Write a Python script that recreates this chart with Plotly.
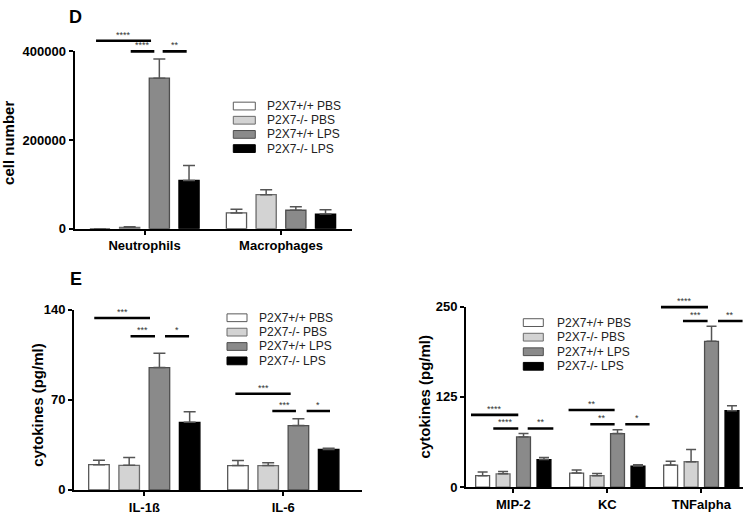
import plotly.graph_objects as go

W, H = 750, 519

series = ["P2X7+/+ PBS", "P2X7-/- PBS", "P2X7+/+ LPS", "P2X7-/- LPS"]
series_fill = ["#ffffff", "#d3d3d3", "#8a8a8a", "#000000"]
series_edge = ["#5a5a5a", "#6a6a6a", "#4e4e4e", "#000000"]

# D: cells in BAL
cell_types = ["Neutrophils", "Macrophages"]
cell_mean = [
    [0, 35700],
    [3000, 76700],
    [339500, 41600],
    [108700, 32900],
]
cell_sem = [
    [0, 8300],
    [1500, 10900],
    [43500, 7900],
    [33700, 10100],
]
cell_ticks = [0, 200000, 400000]
# (category, start, end, level, stars)
cell_sig = [
    (0, -0.355, 0.048, 424100, "****"),
    (0, -0.101, 0.072, 400000, "****"),
    (0, 0.133, 0.309, 400000, "**"),
]

# E left: IL-1b / IL-6
il_names = ["IL-1ß", "IL-6"]
il_mean = [
    [19.6, 18.9],
    [19.1, 18.9],
    [95.0, 50.0],
    [52.5, 31.4],
]
il_sem = [
    [3.5, 4.0],
    [6.0, 2.2],
    [11.1, 5.3],
    [8.3, 1.0],
]
il_ticks = [0, 70, 140]
il_sig = [
    (0, -0.360, 0.041, 133.5, "***"),
    (0, -0.099, 0.077, 119.4, "***"),
    (0, 0.149, 0.322, 119.4, "*"),
    (1, -0.345, 0.053, 74.7, "***"),
    (1, -0.079, 0.091, 61.3, "***"),
    (1, 0.168, 0.336, 61.3, "*"),
]

# E right: chemokines / TNF
ck_names = ["MIP-2", "KC", "TNFalpha"]
ck_mean = [
    [15.9, 19.5, 30.6],
    [18.5, 15.9, 35.2],
    [69.6, 74.2, 201.9],
    [38.3, 29.3, 105.9],
]
ck_sem = [
    [5.3, 4.4, 5.4],
    [3.3, 3.2, 17.0],
    [4.6, 5.4, 20.9],
    [2.7, 1.9, 6.7],
]
ck_ticks = [0, 125, 250]
ck_sig = [
    (0, -0.450, 0.053, 100.1, "****"),
    (0, -0.213, 0.053, 81.3, "****"),
    (0, 0.153, 0.426, 81.3, "**"),
    (1, -0.412, 0.078, 106.9, "**"),
    (1, -0.181, 0.078, 87.1, "**"),
    (1, 0.191, 0.450, 87.1, "*"),
    (2, -0.429, 0.071, 249.3, "****"),
    (2, -0.195, 0.067, 230.1, "***"),
    (2, 0.178, 0.439, 230.1, "**"),
]

FONT = "Arial, Liberation Sans, sans-serif"


def fx(px):
    return px / W


def fy(py):
    return 1 - py / H


# pixel boxes of each panel (left, right, bottom, top, first category px, category step)
panels = [
    dict(cats=cell_types, mean=cell_mean, sem=cell_sem, ticks=cell_ticks, sig=cell_sig,
         box=(74.5, 351.7, 228.3, 45.7), c0=144.5, step=136.5, sig_top=14, cap=6,
         title="cell number", title_xy=(9, 140), letter="D", letter_xy=(67, 10),
         legend=(233.3, 102, 265, 14.6, 22)),
    dict(cats=il_names, mean=il_mean, sem=il_sem, ticks=il_ticks, sig=il_sig,
         box=(74, 361.7, 497.3, 311.7), c0=144.3, step=139, sig_top=296, cap=6,
         title="cytokines (pg/ml)", title_xy=(37.5, 410), letter="E", letter_xy=(68, 280),
         legend=(227, 320, 257, 14.8, 20)),
    dict(cats=ck_names, mean=ck_mean, sem=ck_sem, ticks=ck_ticks, sig=ck_sig,
         box=(466, 743, 494.5, 308.5), c0=513.3, step=94, sig_top=292, cap=5,
         title="cytokines (pg/ml)", title_xy=(424, 402), letter=None, letter_xy=None,
         legend=(523.3, 325, 555, 15, 20)),
]

fig = go.Figure()
layout = {}
annotations = []
shapes = []

for p, panel in enumerate(panels):
    n = p + 1
    sn = n + 3
    xa = "x" if n == 1 else f"x{n}"
    ya = "y" if n == 1 else f"y{n}"
    sxa, sya = f"x{sn}", f"y{sn}"
    left, right, bottom, top = panel["box"]
    xr = [(left - panel["c0"]) / panel["step"], (right - panel["c0"]) / panel["step"]]
    ymax = panel["ticks"][-1]
    idx = list(range(len(panel["cats"])))

    for s in range(len(series)):
        fig.add_bar(
            x=idx, y=panel["mean"][s], xaxis=xa, yaxis=ya, name=series[s],
            marker=dict(color=series_fill[s], line=dict(color=series_edge[s], width=1.3)),
            error_y=dict(type="data", array=panel["sem"][s], arrayminus=[0] * len(idx),
                         symmetric=False, color="#555555", thickness=1.5, width=panel["cap"]),
            showlegend=False, hoverinfo="skip",
        )

    for c, a, b, lvl, stars in panel["sig"]:
        fig.add_scatter(
            x=[c + a, c + b], y=[lvl, lvl], mode="lines", xaxis=sxa, yaxis=sya,
            line=dict(color="black", width=2.6), showlegend=False, hoverinfo="skip",
        )
        annotations.append(dict(
            x=c + (a + b) / 2, y=lvl, xref=sxa, yref=sya, text=stars, showarrow=False,
            yanchor="bottom", yshift=-1, font=dict(family=FONT, size=9, color="#333333"),
        ))

    axis_font = dict(family=FONT, size=13, color="black", weight="bold")
    layout["xaxis" if n == 1 else f"xaxis{n}"] = dict(
        domain=[fx(left), fx(right)], range=xr, anchor=ya,
        tickmode="array", tickvals=idx, ticktext=panel["cats"],
        showline=True, linecolor="black", linewidth=2, ticks="outside",
        ticklen=4, tickwidth=2, tickcolor="black", tickfont=axis_font,
        showgrid=False, zeroline=False,
    )
    layout["yaxis" if n == 1 else f"yaxis{n}"] = dict(
        domain=[fy(bottom), fy(top)], range=[0, ymax], anchor=xa,
        tickmode="array", tickvals=panel["ticks"], tickformat="d",
        showline=True, linecolor="black", linewidth=2, ticks="outside",
        ticklen=4, tickwidth=2, tickcolor="black", tickfont=axis_font,
        showgrid=False, zeroline=False,
    )
    # taller invisible twin for the significance brackets (same data scale)
    layout[f"xaxis{sn}"] = dict(domain=[fx(left), fx(right)], range=xr, anchor=sya, visible=False)
    layout[f"yaxis{sn}"] = dict(
        domain=[fy(bottom), fy(panel["sig_top"])],
        range=[0, ymax * (bottom - panel["sig_top"]) / (bottom - top)],
        anchor=sxa, visible=False,
    )

    tx, ty = panel["title_xy"]
    annotations.append(dict(
        x=fx(tx), y=fy(ty), xref="paper", yref="paper", text=panel["title"],
        textangle=-90, showarrow=False, xanchor="center", yanchor="middle",
        font=dict(family=FONT, size=15, color="black", weight="bold"),
    ))
    if panel["letter"]:
        lx, ly = panel["letter_xy"]
        annotations.append(dict(
            x=fx(lx), y=fy(ly), xref="paper", yref="paper", text=panel["letter"],
            showarrow=False, xanchor="left", yanchor="middle",
            font=dict(family=FONT, size=18, color="black", weight="bold"),
        ))

    # legend box
    sx, cy, tx0, step, sw = panel["legend"]
    for s in range(len(series)):
        yy = cy + s * step
        shapes.append(dict(
            type="rect", xref="paper", yref="paper",
            x0=fx(sx), x1=fx(sx + sw), y0=fy(yy + 4), y1=fy(yy - 4),
            fillcolor=series_fill[s], line=dict(color=series_edge[s], width=1),
        ))
        annotations.append(dict(
            x=fx(tx0), y=fy(yy), xref="paper", yref="paper", text=series[s],
            showarrow=False, xanchor="left", yanchor="middle",
            font=dict(family=FONT, size=12, color="#222222"),
        ))

fig.update_layout(
    width=W, height=H,
    margin=dict(l=0, r=0, t=0, b=0),
    barmode="group", bargap=0.13, bargroupgap=0.32,
    paper_bgcolor="white", plot_bgcolor="rgba(0,0,0,0)",
    showlegend=False,
    annotations=annotations, shapes=shapes,
    **layout,
)

# the page body has a default 8px margin; drop it so the figure sits at 0,0
fig.write_html("out.html", config={"displayModeBar": False},
               post_script="document.body.style.margin = '0';")
